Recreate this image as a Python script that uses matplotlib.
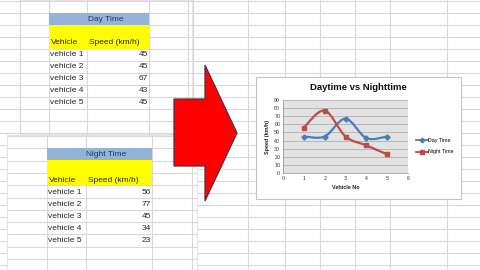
import matplotlib.pyplot as plt
from matplotlib.patches import Rectangle, Polygon, PathPatch
from matplotlib.path import Path
import numpy as np

# data
vehicles = ['vehicle 1', 'vehicle 2', 'vehicle 3', 'vehicle 4', 'vehicle 5']
vehicle_no = [1, 2, 3, 4, 5]
day_speed = [45, 45, 67, 43, 45]
night_speed = [56, 77, 45, 34, 23]
x_ticks = [0, 1, 2, 3, 4, 5, 6]
y_ticks = [0, 10, 20, 30, 40, 50, 60, 70, 80, 90]

grid_col = '#d8d8d8'
text_col = '#262626'
font = 'Liberation Sans'
fs = 6.0


def smooth_path(xs, ys):
    # catmull-rom through the points, like excel "smoothed line"
    pts = np.column_stack([xs, ys]).astype(float)
    ext = np.vstack([pts[0], pts, pts[-1]])
    verts = [tuple(pts[0])]
    codes = [Path.MOVETO]
    for i in range(1, len(ext) - 2):
        p0, p1, p2, p3 = ext[i - 1], ext[i], ext[i + 1], ext[i + 2]
        c1 = p1 + (p2 - p0) / 6.0
        c2 = p2 - (p3 - p1) / 6.0
        verts += [tuple(c1), tuple(c2), tuple(p2)]
        codes += [Path.CURVE4] * 3
    return Path(verts, codes)


fig = plt.figure(figsize=(4.8, 2.7), dpi=100)
bg = fig.add_axes([0, 0, 1, 1])
bg.set_xlim(0, 480)
bg.set_ylim(270, 0)
bg.axis('off')

# background sheet grid
for y in np.arange(1, 270, 12):
    bg.plot([0, 480], [y, y], color=grid_col, lw=0.8, zorder=0)
for x in [193, 248, 285, 320, 355, 390, 447]:
    bg.plot([x, x], [0, 270], color=grid_col, lw=0.8, zorder=0)

# upper left sheet
bg.add_patch(Rectangle((20, 0), 172, 134, facecolor='white', edgecolor='#e4e4e4', lw=0.8, zorder=1))
for y in np.arange(1, 134, 12):
    bg.plot([20, 192], [y, y], color=grid_col, lw=0.8, zorder=1.1)
for x in [20, 49, 87, 149, 188]:
    bg.plot([x, x], [0, 134], color=grid_col, lw=0.8, zorder=1.1)

# lower left sheet
bg.add_patch(Rectangle((7, 135), 190, 135, facecolor='white', edgecolor='#e4e4e4', lw=0.8, zorder=2))
for y in np.arange(136, 270, 12.3):
    bg.plot([7, 197], [y, y], color=grid_col, lw=0.8, zorder=2.1)
for x in [47, 86, 152, 192]:
    bg.plot([x, x], [135, 270], color=grid_col, lw=0.8, zorder=2.1)


def draw_table(x0, x1, xmid, top, title, speeds, row_ys, head_y):
    bg.add_patch(Rectangle((x0, top), x1 - x0, 12, facecolor='#95b3d7', lw=0, zorder=3))
    bg.add_patch(Rectangle((x0, top + 12), x1 - x0, 25, facecolor='#ffff00', lw=0, zorder=3))
    bg.text((x0 + x1) / 2 + 7, top + 6.5, title, ha='center', va='center',
            fontsize=fs, color='#1f3864', family=font, zorder=4)
    bg.text(x0 + 1.5, head_y, 'Vehicle', ha='left', va='center', fontsize=fs,
            color=text_col, family=font, zorder=4)
    bg.text(xmid + 2, head_y, 'Speed (km/h)', ha='left', va='center', fontsize=fs,
            color=text_col, family=font, zorder=4)
    for name, v, y in zip(vehicles, speeds, row_ys):
        bg.text(x0 + 1.5, y, name, ha='left', va='center', fontsize=fs,
                color=text_col, family=font, zorder=4)
        bg.text(x1 - 1, y, str(v), ha='right', va='center', fontsize=fs,
                color=text_col, family=font, zorder=4)


draw_table(49, 149, 87, 13, 'Day Time', day_speed, [55, 67, 79, 91, 103], 43)
draw_table(47, 152, 86, 148, 'Night Time', night_speed, [192, 204, 217, 229, 241], 180)

# big red arrow
arrow = [(174, 99), (205, 99), (205, 65), (237, 133), (205, 201), (205, 166), (174, 166)]
bg.add_patch(Polygon(arrow, closed=True, facecolor='#ff0000', edgecolor='#4a3050', lw=0.9, zorder=5))

# chart box
bg.add_patch(Rectangle((256, 77), 205, 122, facecolor='white', edgecolor='#c4c4c4', lw=0.8, zorder=6))
bg.text(358, 88, 'Daytime vs Nighttime', ha='center', va='center', fontsize=6.8,
        fontweight='bold', color='#111111', family=font, zorder=7)

ax = fig.add_axes([283 / 480, (270 - 173) / 270, (408 - 283) / 480, (173 - 100) / 270], zorder=8)
ax.set_facecolor('#e2e2e2')
ax.set_xlim(0, 6)
ax.set_ylim(0, 90)
ax.set_xticks(x_ticks)
ax.set_yticks(y_ticks)
ax.tick_params(labelsize=3.8, length=0, pad=2, labelcolor='#333333')
for lab in ax.get_xticklabels() + ax.get_yticklabels():
    lab.set_family(font)
ax.yaxis.grid(True, color='#b0b0b0', lw=0.6)
ax.set_axisbelow(True)
for side in ['top', 'right']:
    ax.spines[side].set_visible(False)
for side in ['left', 'bottom']:
    ax.spines[side].set_color('#9a9a9a')
    ax.spines[side].set_linewidth(0.6)
ax.set_xlabel('Vehicle No', fontsize=3.9, fontweight='bold', family=font, labelpad=3, color='#222222')
ax.set_ylabel('Speed (km/h)', fontsize=3.9, fontweight='bold', family=font, labelpad=3, color='#222222')

day_col = '#4a7ebb'
night_col = '#be4b48'
ax.add_patch(PathPatch(smooth_path(vehicle_no, day_speed), facecolor='none', edgecolor=day_col, lw=1.6))
ax.add_patch(PathPatch(smooth_path(vehicle_no, night_speed), facecolor='none', edgecolor=night_col, lw=1.6))
ax.plot(vehicle_no, day_speed, linestyle='none', marker='D', ms=2.6, color=day_col, label='Day Time')
ax.plot(vehicle_no, night_speed, linestyle='none', marker='s', ms=3.2, color=night_col, label='Night Time')

# legend drawn beside the plot
handles = [plt.Line2D([], [], color=day_col, lw=1.3, marker='D', ms=2.4),
           plt.Line2D([], [], color=night_col, lw=1.3, marker='s', ms=2.8)]
fig.legend(handles, ['Day Time', 'Night Time'], loc='center left',
           bbox_to_anchor=(414 / 480, (270 - 146) / 270), frameon=False,
           prop={'family': font, 'size': 3.8}, handlelength=2.2, handletextpad=0.1,
           labelspacing=1.3, borderaxespad=0)

fig.savefig('out.png', dpi=100)
